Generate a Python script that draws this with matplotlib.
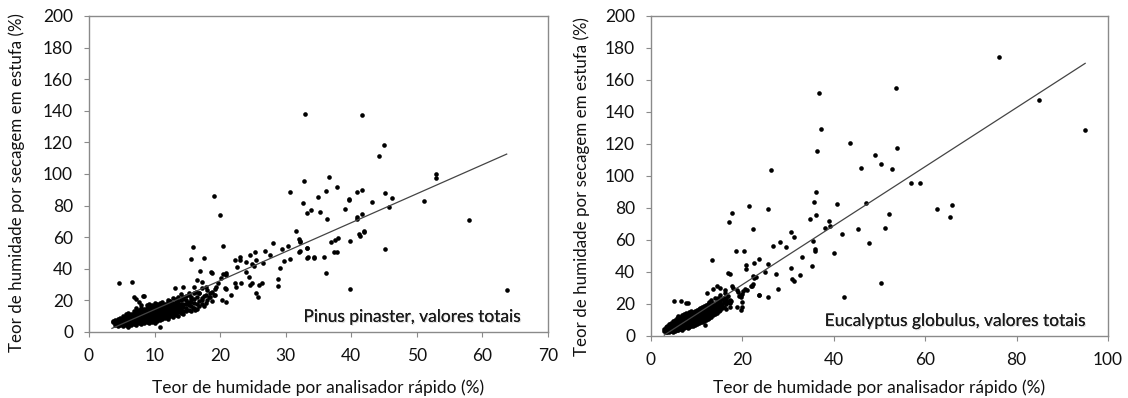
import matplotlib
matplotlib.use("Agg")
import matplotlib.pyplot as plt
import matplotlib.patheffects as pe

# ---------------- Pinus pinaster ----------------
pinus_cluster_x = (
    [3.6, 3.6, 4.0, 4.0, 4.0, 4.4, 4.4, 4.4, 4.4, 4.8, 4.8, 4.8, 4.8,
     5.2, 5.2, 5.2, 5.2, 5.2, 5.6, 5.6, 5.6, 5.6, 5.6,
     6.0, 6.0, 6.0, 6.0, 6.0, 6.0, 6.4, 6.4, 6.4, 6.4, 6.4,
     6.8, 6.8, 6.8, 6.8, 6.8, 6.8, 7.2, 7.2, 7.2, 7.2, 7.2, 7.2, 7.2,
     7.6, 7.6, 7.6, 7.6, 7.6, 7.6, 7.6, 8.0, 8.0, 8.0, 8.0, 8.0, 8.0, 8.0, 8.0,
     8.4, 8.4, 8.4, 8.4, 8.4, 8.4, 8.4, 8.8, 8.8, 8.8, 8.8, 8.8, 8.8, 8.8,
     9.2, 9.2, 9.2, 9.2, 9.2, 9.2, 9.2, 9.2, 9.6, 9.6, 9.6, 9.6, 9.6, 9.6, 9.6,
     10.0, 10.0, 10.0, 10.0, 10.0, 10.0, 10.0, 10.0, 10.4, 10.4, 10.4, 10.4, 10.4, 10.4, 10.4,
     10.8, 10.8, 10.8, 10.8, 10.8, 10.8, 10.8, 11.2, 11.2, 11.2, 11.2, 11.2, 11.2, 11.2,
     11.6, 11.6, 11.6, 11.6, 11.6, 11.6, 12.0, 12.0, 12.0, 12.0, 12.0, 12.0, 12.0, 12.0,
     12.4, 12.4, 12.4, 12.4, 12.4, 12.4, 12.8, 12.8, 12.8, 12.8, 12.8, 12.8, 12.8,
     13.2, 13.2, 13.2, 13.2, 13.2, 13.2, 13.6, 13.6, 13.6, 13.6, 13.6, 13.6, 13.6,
     14.0, 14.0, 14.0, 14.0, 14.0, 14.0, 14.4, 14.4, 14.4, 14.4, 14.4,
     14.8, 14.8, 14.8, 14.8, 14.8, 15.2, 15.2, 15.2, 15.2, 15.6, 15.6, 15.6, 15.6,
     16.0, 16.0, 16.0, 16.0, 16.4, 16.4, 16.4, 16.8, 16.8, 16.8, 17.2, 17.2, 17.2,
     17.6, 17.6, 18.0, 18.0, 18.4, 18.4, 18.8, 19.2, 19.2]
)
pinus_cluster_y = (
    [6.5, 7.2, 4.5, 6.0, 7.8, 3.8, 5.5, 7.0, 8.5, 4.2, 6.0, 7.5, 9.0,
     3.6, 5.0, 6.8, 8.4, 10.0, 4.5, 6.2, 7.8, 9.5, 11.2,
     3.8, 5.5, 7.2, 8.8, 10.5, 12.0, 4.6, 6.4, 8.0, 9.8, 11.5,
     5.0, 6.8, 8.6, 10.4, 12.2, 13.6, 4.4, 6.0, 7.8, 9.6, 11.4, 13.0, 15.2,
     5.4, 7.2, 9.0, 10.8, 12.6, 14.2, 19.2, 5.0, 6.6, 8.4, 10.2, 12.0, 13.8, 15.5, 17.2,
     5.8, 7.6, 9.4, 11.2, 13.0, 14.8, 22.5, 6.2, 8.0, 9.8, 11.6, 13.4, 15.2, 16.8,
     5.6, 7.4, 9.2, 11.0, 12.8, 14.6, 16.4, 18.0, 6.6, 8.4, 10.2, 12.0, 13.8, 15.6, 17.4,
     6.0, 7.8, 9.6, 11.4, 13.2, 15.0, 16.8, 18.5, 7.0, 8.8, 10.6, 12.4, 14.2, 16.0, 17.6,
     7.6, 9.4, 11.2, 13.0, 14.8, 16.6, 18.4, 8.2, 10.0, 11.8, 13.6, 15.4, 17.2, 19.0,
     8.8, 10.6, 12.4, 14.2, 16.0, 17.8, 8.0, 9.8, 11.6, 13.4, 15.2, 17.0, 18.8, 20.4,
     10.4, 12.2, 14.0, 15.8, 17.6, 19.4, 9.6, 11.4, 13.2, 15.0, 16.8, 18.6, 21.6,
     11.0, 12.8, 14.6, 16.4, 18.2, 20.0, 10.4, 12.4, 14.2, 16.0, 17.8, 19.6, 22.0,
     12.0, 14.0, 16.0, 18.0, 20.0, 24.2, 11.4, 13.6, 15.6, 17.8, 21.0,
     13.0, 15.4, 17.6, 20.4, 22.6, 14.2, 16.8, 19.2, 23.5, 13.6, 16.2, 18.8, 21.2,
     15.4, 18.2, 20.8, 25.0, 14.6, 17.6, 22.4, 16.6, 19.6, 24.8, 18.0, 21.5, 28.0,
     16.4, 23.0, 20.5, 26.5, 22.0, 24.5, 19.5, 23.5, 27.2]
)
pinus_other_x = [
    32.9, 41.6, 45.0, 44.2, 52.9, 52.9, 32.8, 36.6, 37.8, 36.1, 34.9, 32.6, 33.2, 33.9,
    35.3, 36.3, 39.0, 39.6, 39.7, 40.9, 41.7, 43.2, 45.1, 46.2, 45.8, 41.7, 40.9, 40.9,
    42.0, 42.0, 41.2, 41.3, 39.8, 38.0, 37.5, 36.9, 37.8, 37.4, 35.8, 34.3, 33.4, 33.2,
    32.2, 32.2, 36.2, 39.8, 45.1, 51.1, 57.9, 63.7,
    30.7, 19.1, 20.0, 31.6, 32.0, 32.2, 33.2, 33.3, 34.3, 32.0, 30.7, 30.4, 29.5, 29.7,
    29.1, 28.8, 28.8, 28.0, 26.9, 27.6, 26.5, 25.3, 25.4, 24.5, 25.2, 24.9, 23.9, 23.9,
    23.0, 23.1, 22.2, 22.5, 24.4, 24.8, 24.6, 25.9, 26.4, 25.5, 25.7, 23.2, 22.4, 22.2,
    21.6, 20.9, 20.5, 20.9, 20.2, 20.7, 20.9, 20.9, 20.3, 20.5, 19.6, 18.6, 18.8, 19.3,
    18.8, 17.9, 17.9, 17.0, 17.3, 16.4, 15.9, 15.5, 17.5, 16.0, 15.3, 14.3, 13.1,
    4.6, 6.5, 10.8, 5.9, 6.9, 8.3, 7.1, 14.4, 15.5, 16.3, 12.2, 13.2, 15.0, 16.8,
    17.8, 18.3, 19.1, 15.8, 16.2, 17.3]
pinus_other_y = [
    137.8, 137.1, 118.2, 111.4, 99.8, 97.7, 95.8, 97.9, 91.6, 89.2, 85.4, 81.6, 75.5, 77.4,
    76.2, 71.3, 78.0, 84.2, 83.5, 88.4, 89.7, 82.3, 88.0, 85.0, 79.3, 74.9, 73.0, 71.7,
    64.1, 63.3, 62.0, 60.5, 57.6, 59.3, 58.2, 57.0, 50.4, 50.4, 47.7, 47.3, 47.3, 53.4,
    51.0, 57.0, 37.5, 27.4, 52.7, 83.1, 70.7, 26.8,
    88.4, 86.1, 74.3, 63.9, 58.7, 57.8, 53.2, 47.1, 47.1, 50.6, 46.2, 54.2, 52.3, 44.9,
    40.3, 33.5, 29.1, 56.1, 51.5, 48.7, 43.5, 50.8, 45.6, 48.7, 41.8, 42.8, 44.5, 38.2,
    47.7, 45.6, 45.6, 40.9, 35.0, 30.8, 29.6, 30.0, 30.8, 24.5, 22.0, 30.8, 28.3, 31.2,
    23.4, 36.1, 37.0, 37.6, 34.2, 27.7, 26.9, 19.2, 20.3, 54.4, 30.8, 38.0, 37.2, 28.5,
    25.3, 28.5, 18.1, 38.8, 31.8, 32.9, 53.8, 46.4, 47.0, 28.5, 24.4, 28.3, 27.7,
    31.0, 31.6, 3.4, 3.3, 22.3, 22.8, 20.7, 22.0, 22.3, 25.4, 19.7, 20.7, 18.6, 25.0,
    23.6, 22.2, 23.2, 15.5, 14.0, 20.0]
pinus_line_x = [3.5, 63.7]
pinus_line_y = [2.3, 112.6]

# ---------------- Eucalyptus globulus ----------------
euc_cluster_x = (
    [2.8, 2.8, 3.2, 3.2, 3.2, 3.6, 3.6, 3.6, 4.0, 4.0, 4.0, 4.0, 4.4, 4.4, 4.4, 4.4,
     4.8, 4.8, 4.8, 4.8, 4.8, 5.2, 5.2, 5.2, 5.2, 5.2, 5.6, 5.6, 5.6, 5.6, 5.6,
     6.0, 6.0, 6.0, 6.0, 6.0, 6.0, 6.4, 6.4, 6.4, 6.4, 6.4, 6.8, 6.8, 6.8, 6.8, 6.8, 6.8,
     7.2, 7.2, 7.2, 7.2, 7.2, 7.2, 7.6, 7.6, 7.6, 7.6, 7.6, 7.6, 8.0, 8.0, 8.0, 8.0, 8.0, 8.0,
     8.4, 8.4, 8.4, 8.4, 8.4, 8.4, 8.8, 8.8, 8.8, 8.8, 8.8, 8.8, 9.2, 9.2, 9.2, 9.2, 9.2, 9.2,
     9.6, 9.6, 9.6, 9.6, 9.6, 9.6, 10.0, 10.0, 10.0, 10.0, 10.0, 10.0,
     10.4, 10.4, 10.4, 10.4, 10.4, 10.4, 10.8, 10.8, 10.8, 10.8, 10.8, 10.8,
     11.2, 11.2, 11.2, 11.2, 11.2, 11.2, 11.6, 11.6, 11.6, 11.6, 11.6, 11.6,
     12.0, 12.0, 12.0, 12.0, 12.0, 12.0, 12.4, 12.4, 12.4, 12.4, 12.4, 12.4,
     12.8, 12.8, 12.8, 12.8, 12.8, 12.8, 13.2, 13.2, 13.2, 13.2, 13.2, 13.2,
     13.6, 13.6, 13.6, 13.6, 13.6, 14.0, 14.0, 14.0, 14.0, 14.0, 14.4, 14.4, 14.4, 14.4,
     14.8, 14.8, 14.8, 14.8, 15.2, 15.2, 15.2, 15.2, 15.6, 15.6, 15.6, 16.0, 16.0,
     16.4, 16.4, 16.4, 16.8, 16.8, 17.2, 17.2]
)
euc_cluster_y = (
    [3.2, 4.5, 2.4, 4.0, 5.6, 2.8, 4.6, 6.4, 2.2, 3.8, 5.4, 7.2, 3.0, 4.8, 6.4, 8.0,
     2.6, 4.2, 5.8, 7.6, 9.4, 3.4, 5.0, 6.8, 8.6, 10.2, 4.0, 5.8, 7.6, 9.4, 11.0,
     3.6, 5.2, 7.0, 8.8, 10.6, 12.2, 4.4, 6.2, 8.0, 9.8, 11.6, 4.0, 5.8, 7.6, 9.4, 11.2, 13.0,
     4.8, 6.6, 8.4, 10.2, 12.0, 13.6, 5.4, 7.2, 9.0, 10.8, 12.6, 14.4, 5.0, 6.8, 8.6, 10.4, 12.2, 14.0,
     5.8, 7.6, 9.4, 11.2, 13.0, 14.8, 6.4, 8.2, 10.0, 11.8, 13.6, 15.4, 6.0, 7.8, 9.6, 11.4, 13.2, 15.0,
     6.8, 8.6, 10.4, 12.2, 14.0, 15.8, 7.4, 9.2, 11.0, 12.8, 14.6, 16.4,
     8.0, 9.8, 11.6, 13.4, 15.2, 17.0, 8.6, 10.4, 12.2, 14.0, 15.8, 17.6,
     9.0, 10.8, 12.6, 14.4, 16.2, 18.2, 9.6, 11.4, 13.2, 15.0, 16.8, 18.8,
     10.2, 12.0, 13.8, 15.6, 17.4, 19.4, 10.8, 12.6, 14.4, 16.2, 18.0, 20.0,
     11.4, 13.2, 15.0, 16.8, 18.6, 21.0, 12.0, 13.8, 15.6, 17.4, 19.2, 22.4,
     13.0, 14.8, 16.6, 18.4, 20.4, 13.6, 15.6, 17.6, 19.6, 24.0, 14.6, 16.6, 18.8, 21.0,
     15.4, 17.8, 20.2, 22.6, 16.4, 19.0, 21.6, 25.6, 17.2, 20.0, 23.0, 18.4, 21.4,
     16.8, 19.8, 23.6, 21.0, 25.0, 18.2, 22.4]
)
euc_other_x = [
    76.2, 85.0, 95.0, 53.6, 53.8, 49.1, 50.3, 52.7, 46.0, 57.0, 58.9, 47.0, 52.1, 51.2,
    47.8, 62.6, 65.8, 65.4, 50.3, 36.8, 37.2, 43.5, 36.3, 26.3, 36.1,
    21.4, 25.7, 17.7, 17.1, 22.3, 35.7, 40.8, 36.1, 34.8, 38.9, 39.1, 38.1, 45.2, 41.9,
    30.6, 31.4, 35.4, 35.9, 35.9, 40.1, 28.3, 26.6, 29.5, 18.7, 20.4, 33.1, 35.3, 30.6,
    30.8, 31.3, 32.7, 27.4, 27.7, 25.7, 23.6, 22.5, 23.6, 20.8, 20.8, 25.5, 25.0, 13.3,
    16.8, 17.2, 22.3, 22.6, 22.3, 21.9, 20.6, 20.2, 20.0, 19.6, 19.3, 18.9, 17.7, 18.0,
    16.3, 15.9, 16.4, 17.2, 17.6, 19.8, 18.9, 15.0, 14.6, 12.3, 23.0, 22.0, 21.0, 19.9,
    19.9, 19.0, 16.2, 14.4, 13.6, 19.7, 23.7, 42.3, 5.0, 7.7, 6.5, 8.2, 11.8]
euc_other_y = [
    174.6, 147.3, 128.9, 155.2, 117.3, 113.1, 107.7, 104.6, 105.2, 95.4, 95.4, 83.1, 76.0, 67.3,
    58.3, 79.6, 82.1, 74.6, 33.1, 152.1, 129.6, 120.4, 115.4, 104.0, 89.8,
    81.3, 79.4, 76.9, 71.4, 66.7, 83.9, 82.5, 75.6, 72.9, 72.1, 68.8, 67.3, 66.7, 63.8,
    65.2, 62.1, 59.6, 54.2, 53.2, 51.7, 58.9, 56.5, 55.8, 53.3, 53.3, 49.6, 43.8, 42.7,
    35.6, 34.6, 38.1, 38.8, 29.4, 24.6, 25.6, 45.4, 47.9, 44.4, 41.9, 45.0, 40.2, 47.5,
    39.4, 38.5, 37.5, 36.2, 32.5, 31.2, 29.5, 28.0, 26.5, 25.8, 25.2, 28.5, 31.2, 30.2,
    28.7, 24.0, 22.8, 20.5, 21.6, 16.2, 18.2, 30.0, 24.0, 27.0, 36.8, 31.5, 28.6, 21.3,
    17.9, 27.7, 27.0, 31.0, 29.6, 24.6, 25.8, 24.2, 22.1, 20.8, 21.9, 20.8, 6.9]
euc_line_x = [2.9, 95.0]
euc_line_y = [0.6, 170.4]

x_ticks_left = [0, 10, 20, 30, 40, 50, 60, 70]
x_ticks_right = [0, 20, 40, 60, 80, 100]
y_ticks = [0, 20, 40, 60, 80, 100, 120, 140, 160, 180, 200]

xlabel = "Teor de humidade por analisador rápido (%)"
ylabel = "Teor de humidade por secagem em estufa (%)"
label_left = "Pinus pinaster, valores totais"
label_right = "Eucalyptus globulus, valores totais"

plt.rcParams['font.family'] = ['Lato', 'DejaVu Sans']
FS = 12.5

fig = plt.figure(figsize=(11.28, 3.98), dpi=100)
W, H = 1128, 398
axL = fig.add_axes([89 / W, 1 - 332 / H, (548 - 89) / W, (332 - 16) / H])
axR = fig.add_axes([651 / W, 1 - 336 / H, (1108 - 651) / W, (336 - 16) / H])

spine_col = '#8a8a8a'
shadow = [pe.withSimplePatchShadow(offset=(0.8, -0.8), shadow_rgbFace='#999999', alpha=0.35),
          pe.Normal()]


def style(ax, xt, xmax, ylab_x, ylab_y, xlab_y, txt, txt_x, txt_y):
    ax.set_xlim(0, xmax)
    ax.set_ylim(0, 200)
    ax.set_xticks(xt)
    ax.set_yticks(y_ticks)
    for s in ax.spines.values():
        s.set_color(spine_col)
        s.set_linewidth(1.0)
    ax.tick_params(axis='both', direction='out', length=3.5, width=0.8, color=spine_col,
                   labelsize=FS, labelcolor='#111111')
    ax.tick_params(axis='x', pad=8)
    ax.tick_params(axis='y', pad=8)
    ax.set_xlabel(xlabel, fontsize=FS, color='#111111', va='center')
    ax.set_ylabel(ylabel, fontsize=FS - 0.3, color='#111111', va='center')
    ax.yaxis.set_label_coords(ylab_x, ylab_y)
    ax.xaxis.set_label_coords(0.5, xlab_y)
    ax.text(txt_x, txt_y, txt, transform=ax.transAxes, ha='right', va='center',
            fontsize=FS, color='#1a1a1a', path_effects=shadow)


style(axL, x_ticks_left, 70, -0.157, 0.472, -0.177, label_left, 0.941, 0.048)
style(axR, x_ticks_right, 100, -0.151, 0.466, -0.1625, label_right, 0.952, 0.047)

for ax, cx, cy, ox, oy, lx, ly in [
        (axL, pinus_cluster_x, pinus_cluster_y, pinus_other_x, pinus_other_y, pinus_line_x, pinus_line_y),
        (axR, euc_cluster_x, euc_cluster_y, euc_other_x, euc_other_y, euc_line_x, euc_line_y)]:
    ax.scatter(cx, cy, s=11, color='black', linewidths=0, zorder=3)
    ax.scatter(ox, oy, s=11, color='black', linewidths=0, zorder=3)
    ax.plot(lx, ly, color='#444444', linewidth=0.9, zorder=4)

fig.savefig("out.png", dpi=100)
